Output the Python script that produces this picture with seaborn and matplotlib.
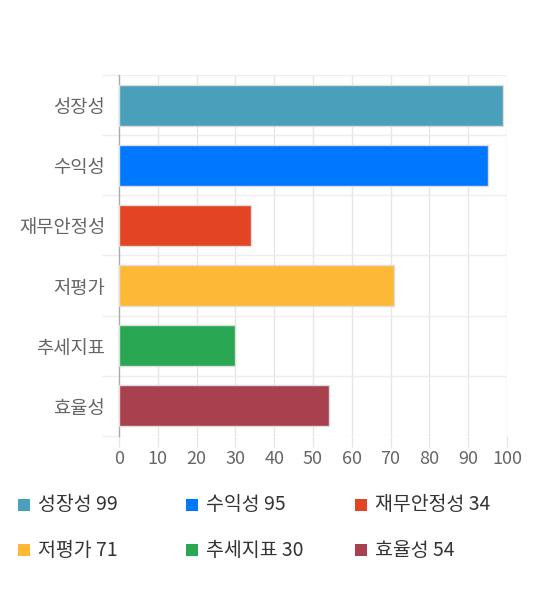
import matplotlib
matplotlib.use("Agg")
import matplotlib.pyplot as plt
from matplotlib.patches import Rectangle
import pandas as pd
import seaborn as sns

categories = ["성장성", "수익성", "재무안정성", "저평가", "추세지표", "효율성"]
scores = [99, 95, 34, 71, 30, 54]
colors = ["#4AA0BA", "#0077FF", "#E34423", "#FDB935", "#2AA753", "#A8404E"]
x_ticks = [0, 10, 20, 30, 40, 50, 60, 70, 80, 90, 100]

sns.set_theme(style="white")
plt.rcParams["font.family"] = ["Noto Sans CJK KR", "DejaVu Sans"]

df = pd.DataFrame({"category": categories, "score": scores})

fig = plt.figure(figsize=(5.4, 5.9), dpi=100)
ax = fig.add_axes([0.2204, 0.2610, 0.7185, 0.6119])

sns.barplot(data=df, y="category", x="score", hue="category",
            palette=colors, order=categories, hue_order=categories,
            orient="h", width=0.68, edgecolor="#dddddd", linewidth=1,
            saturation=1, legend=False, ax=ax, zorder=3)

ax.set_xlim(0, 100)
ax.set_ylim(len(categories) - 0.5, -0.5)
ax.set_xticks(x_ticks)
ax.set_xticklabels([str(t) for t in x_ticks])
ax.set_yticks(range(len(categories)))
ax.set_yticks([i - 0.5 for i in range(len(categories) + 1)], minor=True)
ax.set_xlabel("")
ax.set_ylabel("")

# grid
ax.grid(False)
for t in x_ticks[1:]:
    ax.axvline(t, color="#e6e6e6", lw=1, zorder=1)
for i in range(len(categories) + 1):
    ax.axhline(i - 0.5, color="#eeeeee", lw=1, zorder=1)

for s in ["top", "right", "bottom"]:
    ax.spines[s].set_visible(False)
ax.spines["left"].set_color("#aaaaaa")
ax.spines["left"].set_linewidth(1)

ax.tick_params(axis="x", which="major", length=8, width=1, color="#e6e6e6",
               labelsize=13, labelcolor="#666666", pad=2, bottom=True)
ax.tick_params(axis="y", which="major", length=0, labelsize=13.5,
               labelcolor="#666666", pad=10)
ax.tick_params(axis="y", which="minor", length=12, width=1, color="#eeeeee", left=True)

# legend
leg_x = [18, 186, 355]
leg_y = [499, 544]
for i, (cat, val, col) in enumerate(zip(categories, scores, colors)):
    cx = leg_x[i % 3]
    cy = leg_y[i // 3]
    fig.add_artist(Rectangle((cx / 540, 1 - (cy + 12) / 590), 12 / 540, 12 / 590,
                             transform=fig.transFigure, facecolor=col,
                             edgecolor="none"))
    fig.text((cx + 20) / 540, 1 - (cy + 6) / 590, f"{cat} {val}",
             fontsize=14, color="#333333", va="center", ha="left")

fig.savefig("out.png", dpi=100)
